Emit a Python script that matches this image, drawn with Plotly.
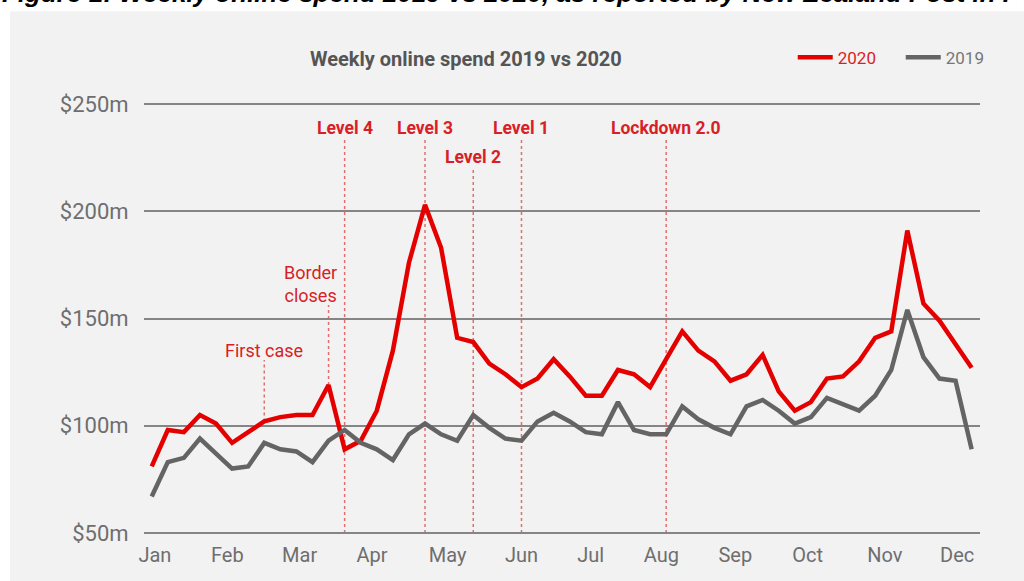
import plotly.graph_objects as go

# Weekly online spend, $m, one value per week of the year
weeks = list(range(52))
spend_2020 = [81, 98, 97, 105, 101, 92, 97, 102, 104, 105, 105, 119, 89, 93, 107, 135,
              176, 203, 183, 141, 139, 129, 124, 118, 122, 131, 123, 114, 114, 126, 124, 118,
              131, 144, 135, 130, 121, 124, 133, 116, 107, 111, 122, 123, 130, 141, 144, 191,
              157, 149, 138, 127]
spend_2019 = [67, 83, 85, 94, 87, 80, 81, 92, 89, 88, 83, 93, 98, 92, 89, 84,
              96, 101, 96, 93, 105, 99, 94, 93, 102, 106, 102, 97, 96, 111, 98, 96,
              96, 109, 103, 99, 96, 109, 112, 107, 101, 104, 113, 110, 107, 114, 126, 154,
              132, 122, 121, 89]

month_labels = ["Jan", "Feb", "Mar", "Apr", "May", "Jun", "Jul", "Aug", "Sep", "Oct", "Nov", "Dec"]
month_weeks = [0.2, 4.7, 9.2, 13.7, 18.4, 23.0, 27.3, 31.7, 36.3, 40.8, 45.6, 50.1]

y_ticks = [50, 100, 150, 200, 250]
y_tick_labels = ["$50m", "$100m", "$150m", "$200m", "$250m"]

# COVID milestones: (week, label)
events_major = [(12, "Level 4"), (17, "Level 3"), (20, "Level 2"), (23, "Level 1"), (32, "Lockdown 2.0")]
events_minor = [(7, "First case"), (11, "Border closes")]

RED = "#e50000"
GREY = "#646464"
LABEL_RED = "#d81e26"
TICK_GREY = "#6e6e6e"
FONT = "Roboto, 'Open Sans', sans-serif"

fig = go.Figure()
fig.add_trace(go.Scatter(x=weeks, y=spend_2020, mode="lines", name="<span style='color:#d81e26'>2020</span>",
                         line=dict(color=RED, width=4.5)))
fig.add_trace(go.Scatter(x=weeks, y=spend_2019, mode="lines", name="<span style='color:#777777'>2019</span>",
                         line=dict(color=GREY, width=4.5)))

shapes = []
annotations = []

# light grey panel behind the chart
shapes.append(dict(type="rect", xref="paper", yref="paper", x0=-0.1603, x1=1.1, y0=-0.2, y1=1.213,
                   fillcolor="#f2f2f2", line=dict(width=0), layer="below"))

dot_line = dict(color="rgba(215,40,40,0.65)", width=1.5, dash="dot")

# label heights for the milestone captions
major_label_y = {"Level 4": 239, "Level 3": 239, "Level 2": 225.5, "Level 1": 239, "Lockdown 2.0": 239}
for wk, label in events_major:
    ly = major_label_y[label]
    shapes.append(dict(type="line", xref="x", yref="y", x0=wk, x1=wk, y0=50, y1=ly - 5.5,
                       line=dot_line, layer="below"))
    annotations.append(dict(x=wk, y=ly, xref="x", yref="y", text="<b>" + label + "</b>",
                            showarrow=False, font=dict(family=FONT, size=17.5, color=LABEL_RED)))

minor_label = {"First case": (135.3, "First case"), "Border closes": (166, "Border<br>closes")}
for wk, label in events_minor:
    ly, txt = minor_label[label]
    top = ly - 4.7 if label == "First case" else ly - 9.7
    shapes.append(dict(type="line", xref="x", yref="y", x0=wk, x1=wk, y0=spend_2020[wk], y1=top,
                       line=dot_line, layer="below"))
    annotations.append(dict(x=wk if label == "First case" else wk - 1.1, y=ly, xref="x", yref="y", text=txt,
                            showarrow=False, font=dict(family=FONT, size=18, color=LABEL_RED)))

# figure caption above the panel
annotations.append(dict(xref="paper", yref="paper", x=-0.172, y=1.216, xanchor="left", yanchor="bottom",
                        text="<b><i>Figure 1: Weekly online spend 2019 vs 2020, as reported by New Zealand Post in FY2020</i></b>",
                        showarrow=False, font=dict(family="'Liberation Sans', Arial, sans-serif", size=26, color="#000000")))

fig.update_layout(
    width=1024, height=581,
    margin=dict(l=144, r=44, t=103, b=47, autoexpand=False),
    paper_bgcolor="#ffffff",
    plot_bgcolor="#f2f2f2",
    font=dict(family=FONT),
    title=dict(text="<b>Weekly online spend 2019 vs 2020</b>", x=0.455, xref="container", xanchor="center",
               y=0.898, yanchor="middle", font=dict(family=FONT, size=20, color="#555555")),
    showlegend=True,
    legend=dict(orientation="h", x=0.776, xanchor="left", y=1.105, yanchor="middle",
                bgcolor="rgba(0,0,0,0)", font=dict(family=FONT, size=17, color="#777777"),
                itemwidth=35, entrywidth=58, traceorder="normal"),
    shapes=shapes,
    annotations=annotations,
    xaxis=dict(range=[-0.48, 51.52], tickmode="array", tickvals=month_weeks, ticktext=month_labels,
               showgrid=False, zeroline=False, showline=False, ticks="outside", ticklen=3,
               tickcolor="rgba(0,0,0,0)", tickfont=dict(family=FONT, size=20, color=TICK_GREY)),
    yaxis=dict(range=[49.5, 250.5], tickmode="array", tickvals=y_ticks, ticktext=y_tick_labels,
               showgrid=True, gridcolor="#858585", gridwidth=1.5, zeroline=False, showline=False,
               ticks="outside", ticklen=10, tickcolor="rgba(0,0,0,0)",
               tickfont=dict(family=FONT, size=22, color=TICK_GREY)),
)

fig.write_html("out.html")
